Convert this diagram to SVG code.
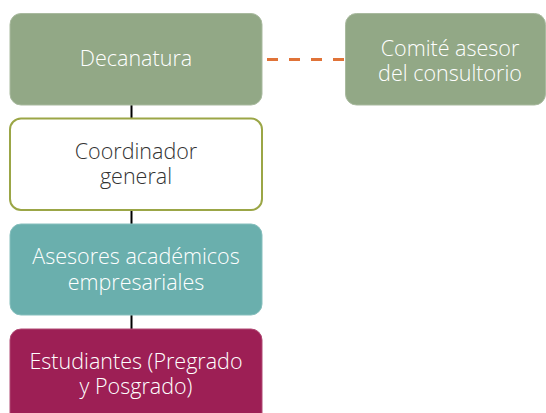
<svg xmlns="http://www.w3.org/2000/svg" width="546" height="413" viewBox="0 0 546 413">
<style>
.box{stroke-width:1}
.lt{font-family:"Open Sans","Noto Sans","DejaVu Sans",sans-serif;font-weight:300;font-size:21.5px;text-anchor:middle;fill:#ffffff}
.dk{fill:#333333}
.conn{stroke:#000000;stroke-width:2;fill:none}
.dash{stroke:#E07338;stroke-width:3;stroke-dasharray:11 11;fill:none}
</style>
<rect width="546" height="413" fill="#ffffff"/>
<g id="connectors">
<line class="conn" x1="131.5" y1="105" x2="131.5" y2="118"/>
<line class="conn" x1="131.5" y1="210" x2="131.5" y2="224"/>
<line class="conn" x1="131.5" y1="315" x2="131.5" y2="329"/>
<line class="dash" x1="267" y1="59.5" x2="345" y2="59.5"/>
</g>
<g id="decanatura">
<rect class="box" x="10" y="13.5" width="252" height="91.5" rx="11" fill="#92A886" stroke="#A9BA9F"/>
<text class="lt" x="136" y="66">Decanatura</text>
</g>
<g id="comite">
<rect class="box" x="345.5" y="13.5" width="200" height="91.5" rx="11" fill="#92A886" stroke="#A9BA9F"/>
<text class="lt" x="450" y="56">Comité asesor</text>
<text class="lt" x="450" y="81">del consultorio</text>
</g>
<g id="coordinador">
<rect x="10" y="118.5" width="252" height="91.5" rx="11" fill="#ffffff" stroke="#9BA646" stroke-width="2"/>
<text class="lt dk" x="136" y="159">Coordinador</text>
<text class="lt dk" x="136" y="184">general</text>
</g>
<g id="asesores">
<rect class="box" x="10" y="224" width="252" height="91" rx="11" fill="#6AAFAD" stroke="#86BFBD"/>
<text class="lt" x="136" y="264">Asesores académicos</text>
<text class="lt" x="136" y="290">empresariales</text>
</g>
<g id="estudiantes">
<rect class="box" x="10" y="329" width="252" height="95" rx="11" fill="#9D1F55" stroke="#B04A74"/>
<text class="lt" x="136" y="369">Estudiantes (Pregrado</text>
<text class="lt" x="136" y="394">y Posgrado)</text>
</g>
</svg>
